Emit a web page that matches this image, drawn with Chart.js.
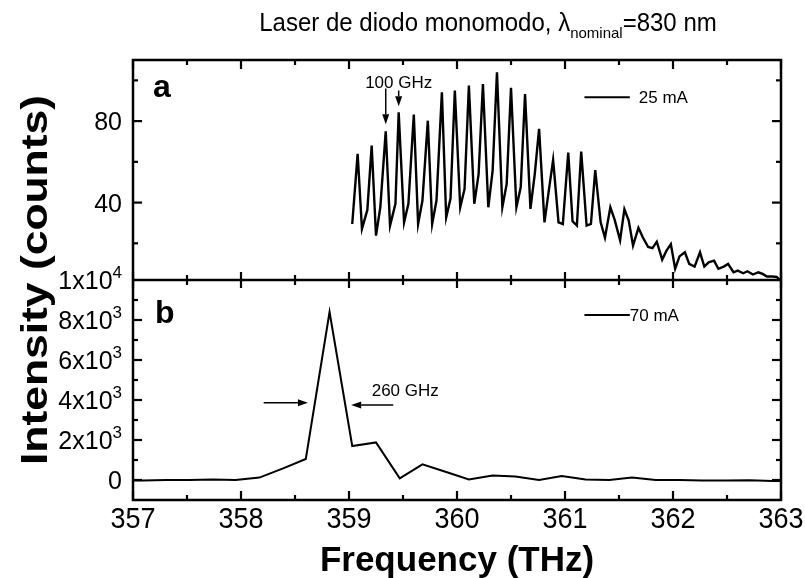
<!DOCTYPE html>
<html>
<head>
<meta charset="utf-8">
<script src="https://cdn.jsdelivr.net/npm/chart.js@4.4.1/dist/chart.umd.min.js"></script>
<style>
  html, body { margin: 0; padding: 0; background: #fff; }
  canvas { display: block; }
</style>
</head>
<body>
<canvas id="spectrum" width="805" height="578"></canvas>
<script>
// panel a: 25 mA, multimode comb
const freqA = [359.03, 359.08, 359.12, 359.17, 359.21, 359.25, 359.29, 359.34, 359.38, 359.43,
  359.46, 359.51, 359.55, 359.60, 359.64, 359.68, 359.73, 359.77, 359.81, 359.86,
  359.90, 359.94, 359.98, 360.03, 360.07, 360.11, 360.16, 360.20, 360.24, 360.29,
  360.33, 360.37, 360.42, 360.46, 360.50, 360.55, 360.59, 360.63, 360.68, 360.72,
  360.76, 360.81, 360.85, 360.89, 360.94, 360.98, 361.03, 361.07, 361.11, 361.15,
  361.20, 361.24, 361.28, 361.33, 361.37, 361.42, 361.46, 361.51, 361.55, 361.59,
  361.63, 361.68, 361.72, 361.77, 361.81, 361.85, 361.90, 361.94, 361.98, 362.02,
  362.06, 362.11, 362.15, 362.20, 362.25, 362.29, 362.33, 362.38, 362.42, 362.47,
  362.51, 362.56, 362.60, 362.65, 362.69, 362.74, 362.79, 362.83, 362.87, 362.92,
  362.96, 362.99];
const countsA = [29.5, 63.9, 27.1, 36.4, 68.0, 23.8, 37.7, 75.0, 28.7, 39.4,
  84.3, 30.3, 39.4, 83.2, 29.5, 41.0, 80.2, 29.5, 41.0, 94.1,
  32.8, 42.0, 95.0, 37.7, 46.7, 97.4, 39.4, 54.0, 98.2, 37.7,
  55.7, 104.0, 37.7, 49.2, 96.3, 37.7, 47.5, 93.3, 36.9, 54.0,
  76.2, 30.3, 45.9, 61.0, 30.3, 29.5, 64.5, 30.8, 28.7, 65.0,
  28.7, 29.5, 56.0, 30.3, 22.8, 37.7, 31.5, 21.5, 36.7, 31.2,
  18.9, 27.6, 23.0, 18.2, 17.6, 20.8, 12.0, 16.4, 19.6, 7.5,
  13.6, 15.6, 9.9, 8.6, 15.6, 8.6, 10.7, 11.5, 7.5, 8.6,
  9.9, 5.8, 6.6, 5.3, 6.3, 4.7, 5.8, 5.0, 3.7, 3.7,
  3.5, 2.0];

// panel b: 70 mA, single mode
const freqB = [357.00, 357.09, 357.31, 357.52, 357.74, 357.95, 358.17, 358.39, 358.60, 358.82,
  359.03, 359.25, 359.47, 359.68, 359.90, 360.11, 360.33, 360.54, 360.76, 360.97,
  361.19, 361.41, 361.62, 361.84, 362.06, 362.27, 362.49, 362.71, 362.92, 363.00];
const countsB = [-20, -20, 0, 0, 30, 0, 120, 580, 1050, 8400,
  1700, 1880, 80, 780, 400, 30, 220, 170, 0, 200,
  30, 0, 120, 0, 0, -30, -30, -10, -50, -50];

// ticks
const xMajor = [357, 358, 359, 360, 361, 362, 363];
const xMinor = [357.5, 358.5, 359.5, 360.5, 361.5, 362.5];
const aMajor = [40, 80];
const aMinor = [20, 60, 100];
const bMajor = [0, 2000, 4000, 6000, 8000, 10000];
const bMinor = [1000, 3000, 5000, 7000, 9000];
const bLabels = [['0', ''], ['2x10', '3'], ['4x10', '3'], ['6x10', '3'], ['8x10', '3'], ['1x10', '4']];

const FONT = "'Liberation Sans', Arial, sans-serif";

function text(ctx, str, x, y, size, opts = {}) {
  ctx.save();
  ctx.font = (opts.bold ? 'bold ' : '') + size + 'px ' + FONT;
  ctx.textAlign = opts.align || 'left';
  ctx.textBaseline = 'alphabetic';
  ctx.translate(x, y);
  ctx.scale(1, opts.stretch || 1);
  ctx.fillText(str, 0, 0);
  ctx.restore();
}

function arrow(ctx, x1, y1, x2, y2) {
  const ang = Math.atan2(y2 - y1, x2 - x1);
  const len = 10, half = 3.5;
  ctx.beginPath();
  ctx.moveTo(x1, y1);
  ctx.lineTo(x2 - len * Math.cos(ang), y2 - len * Math.sin(ang));
  ctx.lineWidth = 1.5;
  ctx.stroke();
  ctx.beginPath();
  ctx.moveTo(x2, y2);
  ctx.lineTo(x2 - len * Math.cos(ang) + half * Math.sin(ang), y2 - len * Math.sin(ang) - half * Math.cos(ang));
  ctx.lineTo(x2 - len * Math.cos(ang) - half * Math.sin(ang), y2 - len * Math.sin(ang) + half * Math.cos(ang));
  ctx.closePath();
  ctx.fill();
}

const framePlugin = {
  id: 'frame',
  afterDraw(chart) {
    const { ctx, chartArea: area } = chart;
    const x = chart.scales.x, ya = chart.scales.yA, yb = chart.scales.yB;
    const mid = yb.getPixelForValue(10000);
    ctx.save();
    ctx.strokeStyle = '#000';
    ctx.fillStyle = '#000';
    ctx.lineWidth = 2.5;
    ctx.strokeRect(area.left, area.top, area.right - area.left, area.bottom - area.top);
    ctx.beginPath();
    ctx.moveTo(area.left, mid);
    ctx.lineTo(area.right, mid);
    ctx.stroke();

    // inward ticks along the three horizontal edges
    const vtick = (px, y0, len) => { ctx.beginPath(); ctx.moveTo(px, y0); ctx.lineTo(px, y0 + len); ctx.stroke(); };
    const htick = (py, x0, len) => { ctx.beginPath(); ctx.moveTo(x0, py); ctx.lineTo(x0 + len, py); ctx.stroke(); };
    ctx.lineWidth = 2.2;
    xMajor.forEach(v => {
      const px = x.getPixelForValue(v);
      vtick(px, area.bottom, -9); vtick(px, area.top, 9);
      vtick(px, mid, -8); vtick(px, mid, 8);
    });
    xMinor.forEach(v => {
      const px = x.getPixelForValue(v);
      vtick(px, area.bottom, -5); vtick(px, area.top, 5);
      vtick(px, mid, -5); vtick(px, mid, 5);
    });
    aMajor.forEach(v => { const py = ya.getPixelForValue(v); htick(py, area.left, 9); htick(py, area.right, -9); });
    aMinor.forEach(v => { const py = ya.getPixelForValue(v); htick(py, area.left, 5); htick(py, area.right, -5); });
    bMajor.slice(0, -1).forEach(v => { const py = yb.getPixelForValue(v); htick(py, area.left, 9); htick(py, area.right, -9); });
    bMinor.forEach(v => { const py = yb.getPixelForValue(v); htick(py, area.left, 5); htick(py, area.right, -5); });

    // tick labels
    xMajor.forEach(v => text(ctx, String(v), x.getPixelForValue(v), area.bottom + 28, 27, { align: 'center', stretch: 1.08 }));
    aMajor.forEach(v => text(ctx, String(v), 122, ya.getPixelForValue(v) + 9, 25, { align: 'right' }));
    bMajor.forEach((v, i) => {
      const [base, exp] = bLabels[i];
      const py = yb.getPixelForValue(v) + 9;
      ctx.font = '17px ' + FONT;
      const ew = exp ? ctx.measureText(exp).width : 0;
      text(ctx, base, 122 - ew, py, 25, { align: 'right' });
      if (exp) text(ctx, exp, 122, py - 11, 17, { align: 'right' });
    });

    // axis titles
    text(ctx, 'Frequency (THz)', (area.left + area.right) / 2, 571, 35, { align: 'center', bold: true });
    ctx.save();
    ctx.translate(47, (area.top + area.bottom) / 2);
    ctx.rotate(-Math.PI / 2);
    ctx.scale(1.2, 1);
    ctx.font = 'bold 37px ' + FONT;
    ctx.textAlign = 'center';
    ctx.fillText('Intensity (counts)', 0, 0);
    ctx.restore();

    // title with subscript
    ctx.font = '24px ' + FONT;
    const t1 = 'Laser de diodo monomodo, \u03bb', t3 = '=830 nm';
    const w1 = ctx.measureText(t1).width, w3 = ctx.measureText(t3).width;
    ctx.font = '15px ' + FONT;
    const w2 = ctx.measureText('nominal').width;
    let tx = 488 - (w1 + w2 + w3) / 2;
    text(ctx, t1, tx, 31, 24, { stretch: 1.1 }); tx += w1;
    text(ctx, 'nominal', tx, 38, 15); tx += w2;
    text(ctx, t3, tx, 31, 24, { stretch: 1.1 });

    // panel letters
    text(ctx, 'a', area.left + 20, area.top + 37, 32, { bold: true });
    text(ctx, 'b', area.left + 22, mid + 43, 32, { bold: true });

    // legends
    ctx.lineWidth = 2;
    const legend = (y, x0, x1, label, gap) => {
      ctx.beginPath(); ctx.moveTo(x0, y); ctx.lineTo(x1, y); ctx.stroke();
      text(ctx, label, x1 + gap, y + 6, 17);
    };
    legend(ya.getPixelForValue(91.7), x.getPixelForValue(361.18), x.getPixelForValue(361.6), '25 mA', 9);
    legend(yb.getPixelForValue(8250), x.getPixelForValue(361.18), x.getPixelForValue(361.6), '70 mA', 0);

    // mode spacing marks
    text(ctx, '100 GHz', x.getPixelForValue(359.46), ya.getPixelForValue(96.5), 17, { align: 'center' });
    arrow(ctx, x.getPixelForValue(freqA[7]), ya.getPixelForValue(96), x.getPixelForValue(freqA[7]), ya.getPixelForValue(countsA[7] + 3.5));
    arrow(ctx, x.getPixelForValue(freqA[10]), ya.getPixelForValue(95), x.getPixelForValue(freqA[10]), ya.getPixelForValue(countsA[10] + 3));

    // linewidth marks
    text(ctx, '260 GHz', x.getPixelForValue(359.21), yb.getPixelForValue(4500) + 6, 17);
    arrow(ctx, x.getPixelForValue(358.21), yb.getPixelForValue(3860), x.getPixelForValue(358.62), yb.getPixelForValue(3860));
    arrow(ctx, x.getPixelForValue(359.41), yb.getPixelForValue(3750), x.getPixelForValue(359.02), yb.getPixelForValue(3750));
    ctx.restore();
  }
};

const series = (xs, ys) => xs.map((v, i) => ({ x: v, y: ys[i] }));

new Chart(document.getElementById('spectrum'), {
  type: 'line',
  data: {
    datasets: [
      { label: '25 mA', data: series(freqA, countsA), yAxisID: 'yA', borderColor: '#000', borderWidth: 2.4, pointRadius: 0, tension: 0 },
      { label: '70 mA', data: series(freqB, countsB), yAxisID: 'yB', borderColor: '#000', borderWidth: 2, pointRadius: 0, tension: 0 }
    ]
  },
  options: {
    responsive: false,
    animation: false,
    layout: { padding: { top: 60, right: 24, left: 0, bottom: 0 } },
    plugins: { legend: { display: false }, tooltip: { enabled: false } },
    scales: {
      x: {
        type: 'linear', min: 357, max: 363,
        ticks: { display: false }, grid: { display: false }, border: { display: false },
        afterFit(s) { s.height = 78; }
      },
      // stacked axes are placed bottom-up in the order they are declared
      yB: {
        type: 'linear', position: 'left', stack: 'panels', stackWeight: 1, min: -1000, max: 10000,
        ticks: { display: false }, grid: { display: false }, border: { display: false },
        afterFit(s) { s.width = 133; }
      },
      yA: {
        type: 'linear', position: 'left', stack: 'panels', stackWeight: 1, min: 2, max: 110,
        ticks: { display: false }, grid: { display: false }, border: { display: false },
        afterFit(s) { s.width = 133; }
      }
    }
  },
  plugins: [framePlugin]
});
</script>
</body>
</html>
